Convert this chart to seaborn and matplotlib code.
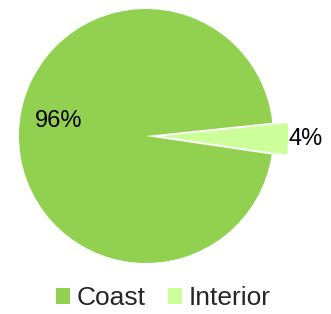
import matplotlib
matplotlib.use("Agg")
import matplotlib.pyplot as plt
import seaborn as sns

categories = ["Coast", "Interior"]
values = [96, 4]
labels = ["96%", "4%"]
colors = ["#92D050", "#CCFF99"]

sns.set_theme(style="white")
plt.rcParams["font.family"] = ["Liberation Sans", "DejaVu Sans"]

fig = plt.figure(figsize=(3.31, 3.14), dpi=100)
ax = fig.add_axes([0, 0, 1, 1])
wedges, _ = ax.pie(values, colors=colors, startangle=6.0, counterclock=True,
                   explode=[0, 0.12], radius=1.0,
                   wedgeprops=dict(linewidth=0))
ax.text(-0.69, 0.12, labels[0], ha="center", va="center", fontsize=17, color="black")
ax.text(1.26, -0.02, labels[1], ha="center", va="center", fontsize=17, color="black")
ax.set_xlim(-146 / 127, (331 - 146) / 127)
ax.set_ylim(-(314 - 136) / 127, 136 / 127)
ax.set_aspect("auto")
ax.axis("off")

fig.legend(wedges, categories, loc="center", bbox_to_anchor=(0.494, 0.05),
           ncol=2, frameon=False, fontsize=19, handlelength=0.53, handleheight=0.53,
           handletextpad=0.25, columnspacing=0.87)
fig.savefig("out.png", dpi=100)
